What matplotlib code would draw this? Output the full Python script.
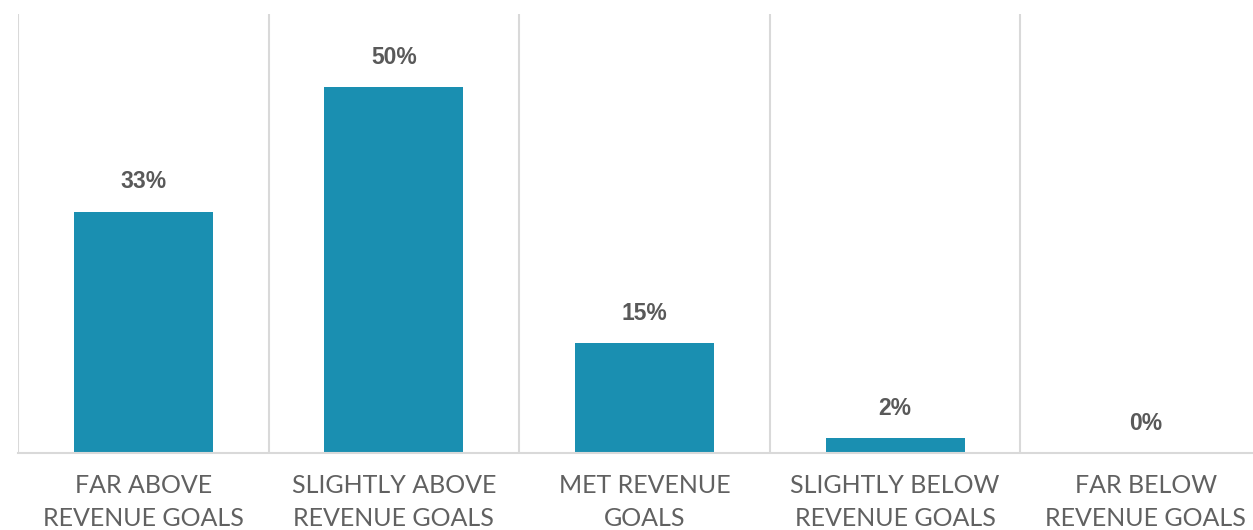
import numpy as np
import matplotlib.pyplot as plt

# data
categories = ['FAR ABOVE\nREVENUE GOALS', 'SLIGHTLY ABOVE\nREVENUE GOALS', 'MET REVENUE\nGOALS',
              'SLIGHTLY BELOW\nREVENUE GOALS', 'FAR BELOW\nREVENUE GOALS']
values = [33, 50, 15, 2, 0]

fig = plt.figure(figsize=(12.53, 5.3), dpi=100)
ax = fig.add_axes([18/1253, 77/530, 1253/1253, 439/530])

x = np.arange(len(categories))
ax.bar(x, values, width=0.555, color='#1a8fb1')

# labels above the bars
for xi, v in zip(x, values):
    ax.text(xi, v + 2.5, f'{v}%', ha='center', va='bottom', fontsize=16.5,
            fontweight='bold', color='#595959', family='Liberation Sans')

# category separators
for b in np.arange(-0.5, len(categories), 1.0):
    ax.axvline(b, color='#d9d9d9', lw=1.5, zorder=0)

ax.set_xlim(-0.5, len(categories) - 0.5)
ax.set_ylim(0, 60)
ax.set_xticks(x)
ax.set_xticklabels(categories, fontsize=18, color='#616161', family='Lato',
                   linespacing=1.55)
ax.tick_params(axis='x', length=0, pad=15)
ax.set_yticks([])
for s in ['top', 'right', 'left']:
    ax.spines[s].set_visible(False)
ax.spines['bottom'].set_color('#d9d9d9')
ax.spines['bottom'].set_linewidth(1.5)

fig.savefig('out.png', dpi=100)
